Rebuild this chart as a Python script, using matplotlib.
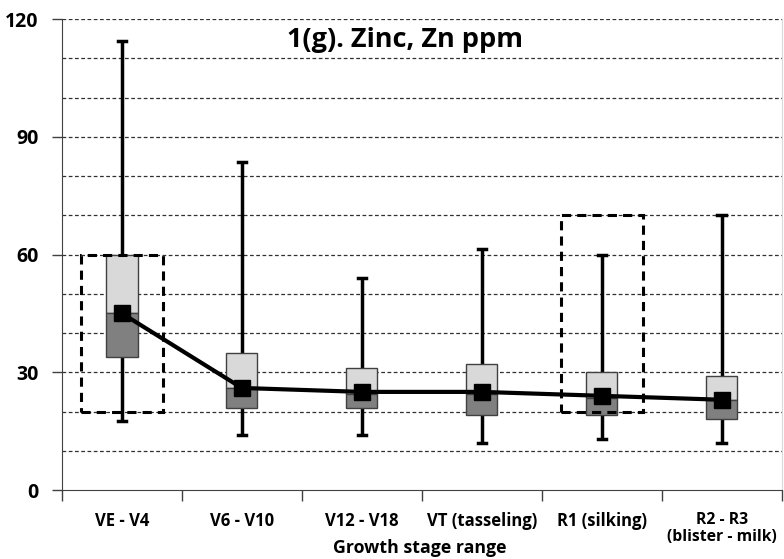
import matplotlib.pyplot as plt
from matplotlib.patches import Rectangle

# growth stages and box-plot stats (Zn ppm)
stages = ['VE - V4', 'V6 - V10', 'V12 - V18', 'VT (tasseling)', 'R1 (silking)', 'R2 - R3\n(blister - milk)']
wmax = [114.5, 83.5, 54, 61.5, 60, 70]
q3 = [60, 35, 31, 32, 30, 29]
median = [45, 26, 24.5, 24.5, 23.5, 23]
q1 = [34, 21, 21, 19, 19, 18]
wmin = [17.5, 14, 14, 12, 13, 12]
mean = [45, 26, 25, 25, 24, 23]

# sufficiency ranges (dashed boxes): stage index, low, high
suff_idx = [0, 4]
suff_low = [20, 20]
suff_high = [60, 70]

plt.rcParams['font.family'] = ['Open Sans', 'DejaVu Sans']

fig = plt.figure(figsize=(7.84, 5.59), dpi=100)
ax = fig.add_axes([0.079, 0.1234, 0.918, 0.8426])

x = list(range(len(stages)))
bw = 0.26
cap = 0.035

for i in x:
    # whiskers
    ax.plot([i, i], [q3[i], wmax[i]], color='black', lw=2.5, zorder=3, solid_capstyle='butt')
    ax.plot([i, i], [wmin[i], q1[i]], color='black', lw=2.5, zorder=3, solid_capstyle='butt')
    ax.plot([i - cap, i + cap], [wmax[i], wmax[i]], color='black', lw=2.5, zorder=3)
    ax.plot([i - cap, i + cap], [wmin[i], wmin[i]], color='black', lw=2.5, zorder=3)
    # boxes
    ax.add_patch(Rectangle((i - bw / 2, median[i]), bw, q3[i] - median[i],
                           facecolor='#d9d9d9', edgecolor='#404040', lw=1, zorder=4))
    ax.add_patch(Rectangle((i - bw / 2, q1[i]), bw, median[i] - q1[i],
                           facecolor='#808080', edgecolor='#404040', lw=1, zorder=4))

for k, i in enumerate(suff_idx):
    ax.add_patch(Rectangle((i - 0.34, suff_low[k]), 0.68, suff_high[k] - suff_low[k],
                           fill=False, edgecolor='black', lw=2.2, ls=(0, (3, 2)), zorder=5))

ax.plot(x, mean, color='black', lw=3, marker='s', markersize=12, zorder=6)

ax.set_ylim(0, 120)
ax.set_xlim(-0.5, 5.5)
ax.set_yticks([0, 30, 60, 90, 120])
for yv in range(10, 121, 10):
    ax.axhline(yv, color='#303030', lw=0.9, ls=(0, (3, 2)), zorder=1)

ax.set_xticks(x)
ax.set_xticklabels(stages, fontsize=12, fontweight='bold', va='top', linespacing=1.05)
ax.get_xticklabels()[-1].set_fontsize(11.3)
ax.set_xticks([v - 0.5 for v in range(len(stages) + 1)], minor=True)
ax.tick_params(axis='x', which='major', length=0, pad=16)
ax.tick_params(axis='x', which='minor', length=8, width=1, color='#404040', direction='out')
ax.tick_params(axis='y', length=7, width=1, color='#404040', labelsize=14, pad=10)
for lab in ax.get_yticklabels():
    lab.set_fontweight('bold')

ax.spines['top'].set_visible(False)
ax.spines['right'].set_color('#d9d9d9')
ax.spines['left'].set_color('#404040')
ax.spines['bottom'].set_color('#404040')

fig.text(420 / 784, 1 - 548 / 559, 'Growth stage range', ha='center', va='center',
         fontsize=12.8, fontweight='bold')
fig.text(405 / 784, 1 - 40 / 559, '1(g). Zinc, Zn ppm', ha='center', va='center',
         fontsize=19.5, fontweight='bold')

fig.savefig('out.png', dpi=100)
